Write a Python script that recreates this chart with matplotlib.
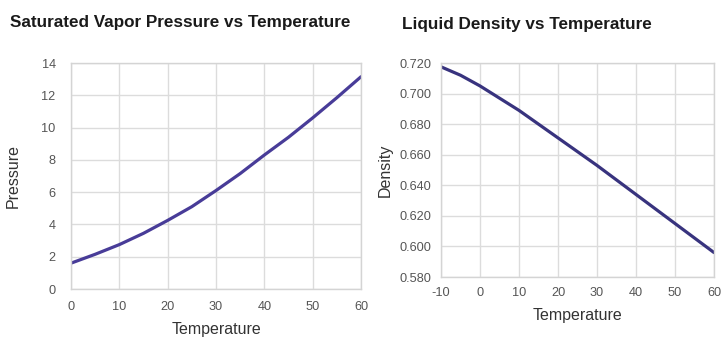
import matplotlib
import matplotlib.pyplot as plt

matplotlib.use("Agg")
plt.rcParams['font.family'] = ['Liberation Sans', 'DejaVu Sans']
plt.rcParams['axes.unicode_minus'] = False

# pressure curve
temp_p = [0, 5, 10, 15, 20, 25, 30, 35, 40, 45, 50, 55, 60]
pressure = [1.6, 2.15, 2.75, 3.45, 4.25, 5.1, 6.1, 7.15, 8.3, 9.4, 10.6, 11.85, 13.15]

# density curve
temp_d = [-10, -5, 0, 5, 10, 15, 20, 25, 30, 35, 40, 45, 50, 55, 60]
density = [0.7175, 0.712, 0.705, 0.697, 0.689, 0.680, 0.671, 0.662, 0.653,
           0.6435, 0.634, 0.6245, 0.615, 0.6055, 0.596]

p_ticks = [0, 2, 4, 6, 8, 10, 12, 14]
d_ticks = [0.580, 0.600, 0.620, 0.640, 0.660, 0.680, 0.700, 0.720]

fig = plt.figure(figsize=(7.24, 3.54), dpi=100)
grid_c = '#dcdcdc'
tick_c = '#555555'


def style(ax, xpad, ypad):
    ax.grid(True, color=grid_c, linewidth=1)
    ax.set_axisbelow(True)
    for s in ax.spines.values():
        s.set_color('#d4d4d4')
        s.set_linewidth(1)
    ax.tick_params(length=0, labelsize=9.2, labelcolor=tick_c)
    ax.tick_params(axis='x', pad=xpad)
    ax.tick_params(axis='y', pad=ypad)


ax1 = fig.add_axes([71 / 724, 65 / 354, 290 / 724, 226 / 354])
ax1.plot(temp_p, pressure, color='#483c98', linewidth=2.3, solid_capstyle='round')
ax1.set_xlim(0, 60)
ax1.set_ylim(0, 14)
ax1.set_xticks([0, 10, 20, 30, 40, 50, 60])
ax1.set_yticks(p_ticks)
style(ax1, 9, 11)
ax1.set_xlabel('Temperature', fontsize=11.5, color='#333333', labelpad=6)
ax1.set_ylabel('Pressure', fontsize=11.5, color='#333333', labelpad=15)

ax2 = fig.add_axes([441 / 724, 77 / 354, 273 / 724, 214 / 354])
ax2.plot(temp_d, density, color='#38337e', linewidth=2.3, solid_capstyle='round')
ax2.set_xlim(-10, 60)
ax2.set_ylim(0.58, 0.72)
ax2.set_xticks([-10, 0, 10, 20, 30, 40, 50, 60])
ax2.set_yticks(d_ticks)
ax2.set_yticklabels(['%.3f' % v for v in d_ticks])
style(ax2, 7, 7)
ax2.set_xlabel('Temperature', fontsize=11.5, color='#333333', labelpad=7)
ax2.set_ylabel('Density', fontsize=11.5, color='#333333', labelpad=5)

fig.text(10 / 724, 1 - 22 / 354, 'Saturated Vapor Pressure vs Temperature',
         fontsize=12.3, fontweight='bold', color='#1a1a1a', va='center', ha='left')
fig.text(402 / 724, 1 - 25 / 354, 'Liquid Density vs Temperature',
         fontsize=12.3, fontweight='bold', color='#1a1a1a', va='center', ha='left')

fig.savefig('out.png', dpi=100)
plt.close()
